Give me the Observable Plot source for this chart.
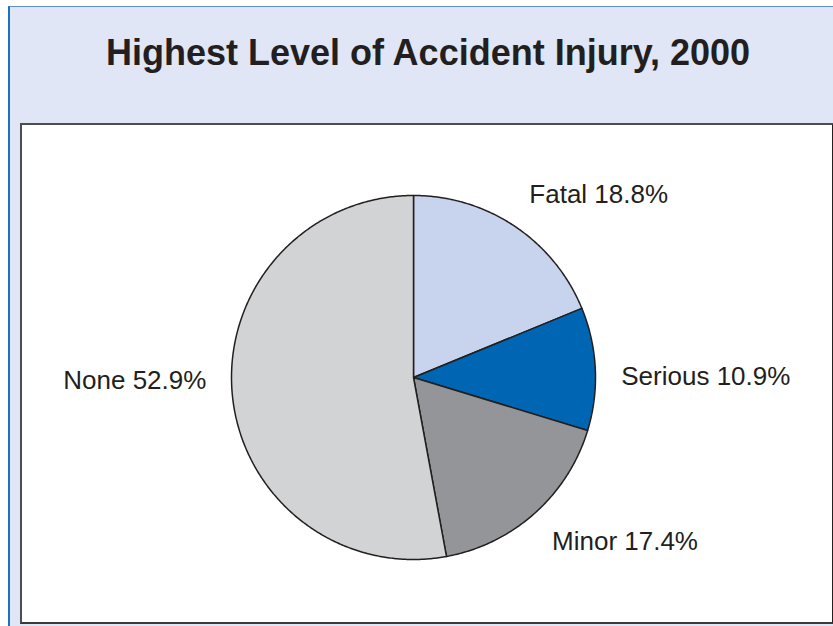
<!DOCTYPE html>
<html>
<head>
<meta charset="utf-8">
<script src="https://cdn.jsdelivr.net/npm/d3@7"></script>
<script src="https://cdn.jsdelivr.net/npm/@observablehq/plot@0.6"></script>
<style>
  html, body { margin: 0; padding: 0; background: #ffffff; overflow: hidden; }
  body { width: 833px; height: 626px; position: relative; font-family: "Liberation Sans", Arial, sans-serif; }
  #outer {
    position: absolute; left: 8px; top: 6px; width: 860px; height: 660px;
    background: #e0e6f5; border-left: 2px solid #1f6fc6; border-top: 1px solid #5b8fd2;
  }
  h1 {
    position: absolute; left: 10px; top: 31px; width: 836px; margin: 0;
    text-align: center; font-size: 36px; font-weight: bold; color: #231f20;
    font-family: "Liberation Sans", Arial, sans-serif; line-height: 44px;
  }
  #panel {
    position: absolute; left: 20px; top: 123px; width: 810px; height: 497px;
    background: #ffffff; border: 2px solid #4d4d4f; border-right-color: #231f20; border-bottom-color: #3a3a3c;
  }
  #panel svg { display: block; }
</style>
</head>
<body>
<div id="outer"></div>
<h1>Highest Level of Accident Injury, 2000</h1>
<div id="panel"></div>
<script>
// ---- data ----
const categories = ["Fatal", "Serious", "Minor", "None"];
const percents = [18.8, 10.9, 17.4, 52.9];
const sliceColors = ["#c8d3ee", "#0066b3", "#939598", "#d1d3d4"];

// ---- layout ----
const W = 810, H = 497;
const cx = 391, cy = 252;   // pie centre inside panel (pixels)
const R = 182;              // pie radius
const labelRx = 208, labelRy = 220;

const pie = d3.pie().sort(null).value(d => d.value);
const arcs = pie(categories.map((c, i) => ({category: c, value: percents[i]})));

// polygon vertices for each slice (angle 0 = north, clockwise)
const slicePts = [];
arcs.forEach(a => {
  const c = a.data.category;
  slicePts.push({category: c, x: 0, y: 0});
  const n = Math.max(2, Math.ceil((a.endAngle - a.startAngle) / (Math.PI / 360)));
  for (let k = 0; k <= n; k++) {
    const t = a.startAngle + (a.endAngle - a.startAngle) * k / n;
    slicePts.push({category: c, x: R * Math.sin(t), y: R * Math.cos(t)});
  }
});

// labels: outside end; near-horizontal labels settle onto the centre line
const labels = arcs.map(a => {
  const m = (a.startAngle + a.endAngle) / 2;
  const s = Math.sin(m), c = Math.cos(m);
  return {
    text: `${a.data.category} ${a.data.value.toFixed(1)}%`,
    x: labelRx * s,
    y: labelRy * c * Math.min(1, Math.abs(c) * 2),
    anchor: s >= 0 ? "start" : "end"
  };
});

const chart = Plot.plot({
  width: W,
  height: H,
  margin: 0,
  style: {background: "transparent", overflow: "visible"},
  x: {domain: [-cx, W - cx], range: [0, W], axis: null},
  y: {domain: [-(H - cy), cy], range: [H, 0], axis: null},
  color: {domain: categories, range: sliceColors},
  marks: [
    Plot.line(slicePts, {
      x: "x", y: "y", z: "category", fill: "category",
      stroke: "#231f20", strokeWidth: 1.5, strokeLinejoin: "round",
      curve: "linear-closed"
    }),
    Plot.text(labels.filter(d => d.anchor === "start"), {
      x: "x", y: "y", text: "text", textAnchor: "start", lineAnchor: "middle",
      fontSize: 26, fill: "#231f20", fontFamily: "Liberation Sans, Arial, sans-serif"
    }),
    Plot.text(labels.filter(d => d.anchor === "end"), {
      x: "x", y: "y", text: "text", textAnchor: "end", lineAnchor: "middle",
      fontSize: 26, fill: "#231f20", fontFamily: "Liberation Sans, Arial, sans-serif"
    })
  ]
});
document.getElementById("panel").appendChild(chart);
</script>
</body>
</html>
